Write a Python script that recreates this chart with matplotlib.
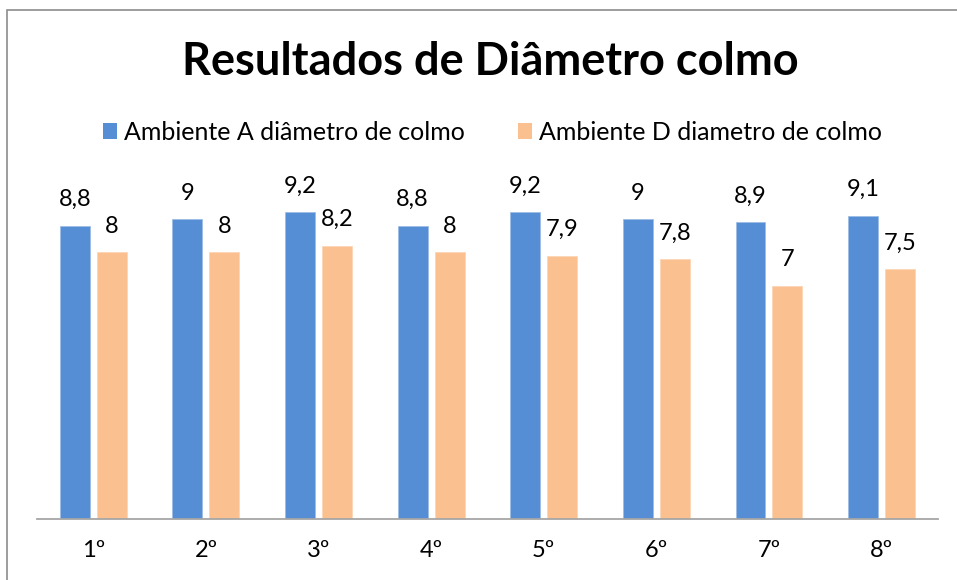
import matplotlib.pyplot as plt
import numpy as np
from matplotlib.patches import Patch, Rectangle

plt.rcParams["font.family"] = ["Lato", "DejaVu Sans"]

CATEGORIES = ["1º", "2º", "3º", "4º", "5º", "6º", "7º", "8º"]
AMBIENTE_A = [8.8, 9.0, 9.2, 8.8, 9.2, 9.0, 8.9, 9.1]
AMBIENTE_D = [8.0, 8.0, 8.2, 8.0, 7.9, 7.8, 7.0, 7.5]
SERIES_LABELS = ["Ambiente A diâmetro de colmo", "Ambiente D diametro de colmo"]

BLUE = "#558ED5"
PEACH = "#FAC090"


def fmt(v: float) -> str:
    return f"{v:g}".replace(".", ",")


def main() -> None:
    fig = plt.figure(figsize=(9.57, 5.8), dpi=100)
    # chart border (cut off at right/bottom like the screenshot)
    fig.patches.append(
        Rectangle((0.007, -0.05), 1.1, 1.033, transform=fig.transFigure,
                  fill=False, edgecolor="#8c8c8c", linewidth=1.2)
    )

    ax = fig.add_axes([0.0387, 0.105, 0.9413, 0.575])
    x = np.arange(len(CATEGORIES))
    w = 0.266
    gap = 0.062
    off = (w + gap) / 2
    bars_a = ax.bar(x - off, AMBIENTE_A, w, color=BLUE, edgecolor="#9dbde6", linewidth=0.6)
    bars_d = ax.bar(x + off, AMBIENTE_D, w, color=PEACH, edgecolor="#fcd6b5", linewidth=0.6)

    for bars, vals in ((bars_a, AMBIENTE_A), (bars_d, AMBIENTE_D)):
        for b, v in zip(bars, vals):
            ax.annotate(fmt(v), (b.get_x() + b.get_width() / 2, v),
                        xytext=(0, 14), textcoords="offset points",
                        ha="center", va="baseline", fontsize=17)

    ax.set_xlim(-0.5, len(CATEGORIES) - 0.5)
    ax.set_ylim(0, 10)
    ax.set_xticks(x)
    ax.set_xticklabels(CATEGORIES, fontsize=17)
    ax.tick_params(axis="x", length=0, pad=15)
    ax.set_yticks([])
    for side in ("top", "right", "left"):
        ax.spines[side].set_visible(False)
    ax.spines["bottom"].set_color("#a6a6a6")
    ax.spines["bottom"].set_linewidth(1.3)

    fig.text(0.512, 0.893, "Resultados de Diâmetro colmo", ha="center", va="center",
             fontsize=32.5, fontweight="bold")

    handles = [Patch(facecolor=BLUE), Patch(facecolor=PEACH)]
    fig.legend(handles, SERIES_LABELS, loc="center", bbox_to_anchor=(0.5146, 0.772),
               ncol=2, frameon=False, fontsize=18, handlelength=0.56,
               handleheight=0.56, handletextpad=0.28, columnspacing=2.1,
               borderpad=0, borderaxespad=0)

    fig.savefig("out.png", dpi=100)


if __name__ == "__main__":
    main()
